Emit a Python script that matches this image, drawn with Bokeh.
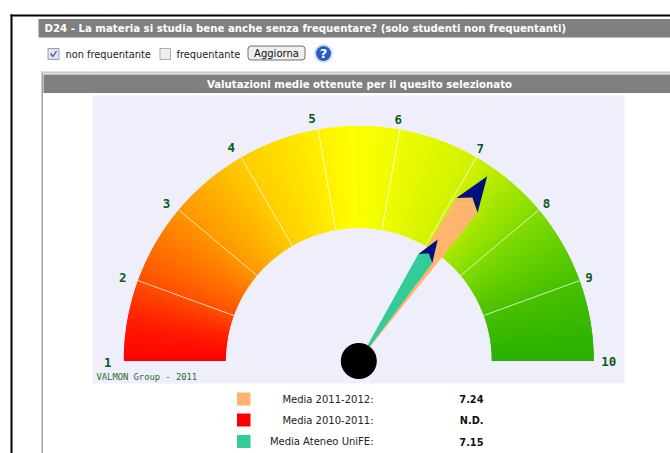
import math
from bokeh.plotting import figure
from bokeh.embed import file_html
from bokeh.resources import INLINE
from bokeh.core.properties import value

# ---- data ----
scale_values = [1, 2, 3, 4, 5, 6, 7, 8, 9, 10]
needle_values = [7.24, 7.15]
needle_colors = ["#FFB56E", "#33CC99"]
legend_labels = ["Media 2011-2012:", "Media 2010-2011:", "Media Ateneo UniFE:"]
legend_values = ["7.24", "N.D.", "7.15"]
legend_colors = ["#FFB56E", "#FF0000", "#33CC99"]
title_top = "D24 - La materia si studia bene anche senza frequentare? (solo studenti non frequentanti)"
title_panel = "Valutazioni medie ottenute per il quesito selezionato"
credit = "VALMON Group - 2011"

# ---- gauge colour stops (value -> colour) ----
stops = [(1, (255, 0, 0)), (1.5, (255, 30, 0)), (2, (255, 80, 0)), (3, (255, 150, 0)), (4, (255, 205, 0)),
         (5, (255, 240, 0)), (5.4, (255, 255, 0)), (6, (238, 252, 0)), (7, (208, 242, 0)),
         (8, (130, 220, 0)), (9, (72, 192, 0)), (10, (40, 176, 0))]

CX, CY, R_OUT, R_IN = 358.3, 360.5, 235, 133


def ang(v):
    return math.radians(180 * (10 - v) / 9)


def pol(v, r, off=0.0):
    a = ang(v) + math.radians(off)
    return CX + r * math.cos(a), CY - r * math.sin(a)


def col(v):
    for (a, ca), (b, cb) in zip(stops, stops[1:]):
        if a <= v <= b:
            t = (v - a) / (b - a)
            return "#%02x%02x%02x" % tuple(round(x + (y - x) * t) for x, y in zip(ca, cb))
    return "#%02x%02x%02x" % stops[-1][1]


p = figure(width=670, height=453, x_range=(0, 670), y_range=(453, 0), toolbar_location=None,
           output_backend="svg", min_border=0, background_fill_color="white", border_fill_color="white")
p.axis.visible = False
p.grid.visible = False
p.outline_line_color = None

SANS = value("DejaVu Sans")
MONO = value("DejaVu Sans Mono")


def box(l, t, r, b, c, **kw):
    p.quad(left=[l], right=[r], top=[t], bottom=[b], fill_color=c, line_color=kw.pop("line", None), **kw)


def txt(x, y, s, size, color="#222222", style="normal", align="left", font=SANS):
    p.text(x=[x], y=[y], text=[s], text_font=font, text_font_size=f"{size}px", text_color=color,
           text_font_style=style, text_align=align, text_baseline="middle")


# page frame
box(10, 14, 12, 453, "#000000")
box(10, 14, 670, 16, "#000000")
box(38, 18.5, 670, 37, "#808080")
txt(44, 28, title_top, 10.2, "white", "bold")

# controls
box(47.5, 48, 58.5, 59, "#dfe3f0", line="#9a9fb0")
p.line(x=[50, 52.5, 56], y=[53, 56, 50.5], line_color="#3a4ea0", line_width=1.2)
txt(65, 53.5, "non frequentante", 9.8, "#222222")
box(159.5, 48, 170, 59, "#eeeeee", line="#aaaaaa")
txt(176, 53.5, "frequentante", 9.8, "#222222")
box(247.5, 45.5, 304.5, 59.5, "#eeeeee", line="#707070", border_radius=3)
txt(276, 53, "Aggiorna", 10, "#111111", align="center")
p.circle(x=[323], y=[53], radius=9.5, fill_color="#d5dff0", line_color=None)
p.circle(x=[323], y=[53], radius=7.5, fill_color="#2a5cc4", line_color=None)
txt(323, 53, "?", 13, "white", "bold", "center")

# panel
box(41, 71, 42.5, 453, "#a0a0a0")
box(41, 71, 670, 73, "#c8c8c8")
box(43, 74, 670, 92.5, "#808080")
txt(359, 84, title_panel, 10.2, "white", "bold", "center")
box(92, 95, 624, 383, "#EFEFFC")

# gauge: overlapping slices, painted in order, so no seams show
N = 180
v0 = [1 + 9 * i / N for i in range(N)]
xs, ys, cs = [], [], []
for v in v0:
    a = v
    b = min(10, v + 2 * 9 / N)
    pts = [pol(a, R_OUT), pol(b, R_OUT), pol(b, R_IN), pol(a, R_IN)]
    xs.append([q[0] for q in pts])
    ys.append([q[1] for q in pts])
    cs.append(col(v + 9 / N / 2))
p.patches(xs, ys, fill_color=cs, line_color=None)

# separators and scale labels
for v in scale_values[1:-1]:
    a, b = pol(v, R_IN), pol(v, R_OUT)
    p.line(x=[a[0], b[0]], y=[a[1], b[1]], line_color="white", line_width=1, line_alpha=0.75)

label_r = [250, 250, 247, 247, 246, 245, 245, 245, 245, 250]
label_dx = [-1, -1, -3, -4, -4, -3, -1, 0, 0, 0]
label_dy = [1, 2, 1, 0, 0, 0, 0, 0, 0, 0]
for v, r, dx, dy in zip(scale_values, label_r, label_dx, label_dy):
    x, y = pol(v, r)
    txt(x + dx, y + dy, str(v), 12.5, "#0b5c1a", "bold", "center", MONO)

txt(96, 376.5, credit, 8.8, "#2a6a2a", "normal", "left", MONO)

# needles
scales = [1.0, 145 / 225]
for v, c, k in zip(needle_values, needle_colors, scales):
    tip = pol(v, 225 * k)
    l, rr = pol(v, 190 * k, 3.9), pol(v, 190 * k, -3.9)
    notch = pol(v, 199 * k)
    p.patch(x=[CX, l[0], notch[0], rr[0]], y=[CY, l[1], notch[1], rr[1]], fill_color=c, line_color=None)
    p.patch(x=[tip[0], l[0], notch[0], rr[0]], y=[tip[1], l[1], notch[1], rr[1]], fill_color="#00107F", line_color=None)
p.circle(x=[CX], y=[CY], radius=18, fill_color="#000000", line_color=None)

# legend
rows = [398.5, 419.5, 441]
for y, c, lab, val in zip(rows, legend_colors, legend_labels, legend_values):
    box(236.5, y - 6.5, 250, y + 6.5, c)
    txt(373, y, lab, 10, "#222222", "normal", "right")
    txt(483, y, val, 9.8, "#111111", "bold", "right")

open("out.html", "w").write(file_html(p, INLINE))
